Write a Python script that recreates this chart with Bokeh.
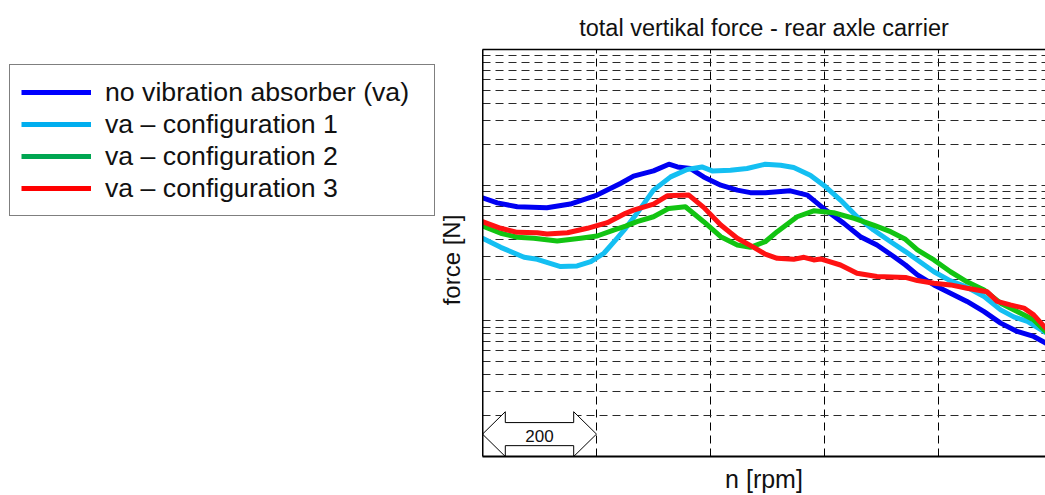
from bokeh.plotting import figure
from bokeh.layouts import row
from bokeh.models import (Range1d, FixedTicker, Legend, LegendItem, LinearAxis, Label)
from bokeh.embed import file_html
from bokeh.resources import INLINE

# ---- texts ----
title_text = "total vertikal force - rear axle carrier"
x_label = "n [rpm]"
y_label = "force [N]"
series_names = ["no vibration absorber (va)", "va \u2013 configuration 1",
                "va \u2013 configuration 2", "va \u2013 configuration 3"]

# ---- measured curves: speed [rpm] / force [N] ----
rpm_no_va = [1000, 1026, 1061, 1113, 1154, 1201, 1242, 1265, 1300, 1327, 1342, 1365,
             1388, 1418, 1447, 1470, 1496, 1540, 1570, 1602, 1634, 1663, 1692, 1722,
             1742, 1763, 1792, 1821, 1850, 1880, 1909, 1938, 1967, 1988]
force_no_va = [8.07, 7.41, 6.93, 6.82, 7.26, 8.45, 10.29, 11.65, 12.74, 14.27, 13.63, 13.26,
               11.51, 10.0, 9.19, 8.81, 8.81, 9.08, 8.45, 6.55, 5.23, 4.17, 3.62, 2.97,
               2.58, 2.18, 1.84, 1.60, 1.39, 1.17, 0.962, 0.835, 0.767, 0.686]

rpm_cfg1 = [1000, 1032, 1073, 1096, 1137, 1166, 1190, 1213, 1236, 1251, 1271, 1300,
            1330, 1359, 1385, 1403, 1435, 1464, 1496, 1523, 1546, 1575, 1602, 1628,
            1657, 1686, 1716, 1742, 1763, 1792, 1821, 1850, 1880, 1909, 1932, 1956, 1988]
force_cfg1 = [4.06, 3.48, 2.94, 2.84, 2.51, 2.54, 2.73, 3.15, 4.06, 4.81, 6.20, 9.19,
              11.51, 13.05, 13.63, 12.74, 12.89, 13.26, 14.27, 14.03, 13.5, 11.85, 9.72, 7.76,
              5.85, 4.67, 3.83, 3.24, 2.81, 2.30, 1.97, 1.77, 1.51, 1.205, 1.07, 0.99, 0.82]

rpm_cfg2 = [1000, 1032, 1061, 1090, 1131, 1172, 1201, 1230, 1251, 1271, 1300, 1327,
            1356, 1388, 1418, 1447, 1470, 1496, 1517, 1552, 1581, 1616, 1652, 1686,
            1716, 1742, 1763, 1792, 1821, 1850, 1880, 1909, 1938, 1967, 1988]
force_cfg2 = [5.0, 4.42, 4.13, 4.06, 3.87, 4.06, 4.22, 4.67, 4.99, 5.38, 5.85, 6.74,
              6.93, 5.38, 4.17, 3.62, 3.48, 3.83, 4.54, 5.85, 6.47, 6.26, 5.69, 5.08,
              4.54, 3.99, 3.33, 2.81, 2.30, 1.94, 1.69, 1.35, 1.17, 1.017, 0.835]

rpm_cfg3 = [1000, 1032, 1061, 1096, 1113, 1149, 1184, 1219, 1251, 1265, 1300, 1324,
            1362, 1388, 1418, 1447, 1476, 1496, 1517, 1546, 1564, 1581, 1593, 1628,
            1657, 1692, 1742, 1763, 1792, 1821, 1850, 1885, 1903, 1926, 1950, 1967, 1988]
force_cfg3 = [5.38, 4.81, 4.49, 4.46, 4.36, 4.46, 4.81, 5.29, 6.20, 6.55, 7.25, 8.35,
              8.45, 6.86, 5.08, 4.06, 3.48, 3.10, 2.89, 2.84, 2.94, 2.81, 2.86, 2.58,
              2.24, 2.12, 2.09, 1.98, 1.89, 1.84, 1.74, 1.64, 1.39, 1.31, 1.24, 1.107, 0.884]

# ---- axes / grid values ----
x_start, x_end = 1000, 1987.7
y_start, y_end = 0.1, 100
grid_rpm = [1200, 1400, 1600, 1800]
grid_force = [m * d for d in (0.1, 1, 10) for m in range(1, 10)][1:]
scale_start, scale_len, scale_text = 1000, 200, "200"

line_colors = ["#0000f2", "#14bff2", "#12c412", "#ff1212"]
legend_colors = ["#0000ff", "#00aeef", "#00a651", "#ff0000"]
FONT = "Liberation Sans"
TEXT = "#111111"
W, H = 1045, 495
FRAME_LEFT, FRAME_TOP, FRAME_BOTTOM = 482, 49, 457

# ---------------- chart ----------------
p = figure(width=W - FRAME_LEFT, height=H, x_range=Range1d(x_start, x_end),
           y_range=Range1d(y_start, y_end), y_axis_type="log",
           output_backend="svg", toolbar_location=None,
           min_border_left=0, min_border_right=0, min_border_top=FRAME_TOP,
           min_border_bottom=H - FRAME_BOTTOM)
p.outline_line_color = None

p.title.text = title_text
p.title.align = "center"
p.title.text_font = FONT
p.title.text_font_size = "23.5px"
p.title.text_font_style = "normal"
p.title.text_color = TEXT
p.title.standoff = 18

# grid
p.xgrid.ticker = FixedTicker(ticks=grid_rpm)
p.xgrid.grid_line_color = "black"
p.xgrid.grid_line_dash = "8 5"
p.xgrid.grid_line_width = 1
p.ygrid.ticker = FixedTicker(ticks=grid_force)
p.ygrid.grid_line_color = "#2a2a2a"
p.ygrid.grid_line_dash = "8 5"
p.ygrid.grid_line_width = 1

# axes: frame lines only (no ticks, no tick labels)
bottom_axis = p.below[0]
left_axis = p.left[0]
top_axis = LinearAxis()
p.add_layout(top_axis, "above")
for ax, lw in ((bottom_axis, 2), (left_axis, 2), (top_axis, 1.5)):
    ax.ticker = FixedTicker(ticks=[])
    ax.axis_line_color = "black"
    ax.axis_line_width = lw
    ax.major_tick_line_color = None
    ax.minor_tick_line_color = None
    ax.major_tick_out = 0
    ax.major_tick_in = 0
    ax.minor_tick_out = 0
    ax.minor_tick_in = 0
    ax.major_label_standoff = 0
    ax.major_label_text_font_size = "0px"
    ax.axis_label_text_font = FONT
    ax.axis_label_text_font_style = "normal"
    ax.axis_label_text_color = TEXT
bottom_axis.axis_label = x_label
bottom_axis.axis_label_text_font_size = "25px"
bottom_axis.axis_label_standoff = 8

# curves
curves = [(rpm_no_va, force_no_va), (rpm_cfg1, force_cfg1),
          (rpm_cfg2, force_cfg2), (rpm_cfg3, force_cfg3)]
for (xs, ys), c in zip(curves, line_colors):
    p.line(xs, ys, line_color=c, line_width=5, line_join="round", line_cap="round")

# speed scale arrow (width = scale_len rpm)
head = scale_len * 0.2
y_mid = y_start * 10 ** 0.165
y_head_top = y_start * 10 ** 0.33
y_shaft_top = y_mid * 10 ** 0.085
y_shaft_bot = y_mid / 10 ** 0.085
x0, x1 = scale_start, scale_start + scale_len
p.quad(left=[x0 + head], right=[x1 - head], bottom=[y_start], top=[y_head_top],
       fill_color="white", line_color=None)
p.patch([x0, x0 + head, x0 + head, x1 - head, x1 - head, x1, x1 - head, x1 - head,
         x0 + head, x0 + head],
        [y_mid, y_head_top, y_shaft_top, y_shaft_top, y_head_top, y_mid, y_start,
         y_shaft_bot, y_shaft_bot, y_start],
        fill_color="white", line_color="black", line_width=1)
p.add_layout(Label(x=(x0 + x1) / 2, y=y_mid, text=scale_text, text_align="center",
                   text_baseline="middle", text_font=FONT, text_font_size="17px",
                   text_color=TEXT, y_offset=-2))

# ---------------- left panel: y label and legend ----------------
# its frame is aligned with the chart frame; data units = pixels from the page bottom
side = figure(width=FRAME_LEFT, height=H, x_range=Range1d(0, FRAME_LEFT),
              y_range=Range1d(H - FRAME_BOTTOM, H - FRAME_TOP),
              output_backend="svg", toolbar_location=None,
              x_axis_location=None, y_axis_location=None,
              min_border_left=0, min_border_right=0, min_border_top=FRAME_TOP,
              min_border_bottom=H - FRAME_BOTTOM)
side.outline_line_color = None
side.xgrid.visible = False
side.ygrid.visible = False

side.add_layout(Label(x=FRAME_LEFT - 31, y=H - 260, text=y_label, angle=90,
                      angle_units="deg", text_align="center", text_baseline="alphabetic",
                      text_font=FONT, text_font_size="24px", text_color=TEXT))

nan = float("nan")
legend_renderers = [side.line([nan], [nan], line_color=c, line_width=5)
                    for c in legend_colors]
legend = Legend(items=[LegendItem(label=n, renderers=[r])
                       for n, r in zip(series_names, legend_renderers)],
                location=(9, FRAME_BOTTOM - 217), orientation="vertical")
legend.border_line_color = "black"
legend.border_line_width = 1
legend.background_fill_color = "white"
legend.background_fill_alpha = 1
legend.padding = 11
legend.margin = 0
legend.spacing = 0
legend.glyph_width = 70
legend.glyph_height = 32
legend.label_height = 32
legend.label_width = 318
legend.label_standoff = 14
legend.label_text_font = FONT
legend.label_text_font_size = "26.7px"
legend.label_text_color = TEXT
legend.label_text_baseline = "middle"
side.add_layout(legend, "center")

layout = row(side, p, spacing=0)
open("out.html", "w").write(file_html(layout, INLINE))
